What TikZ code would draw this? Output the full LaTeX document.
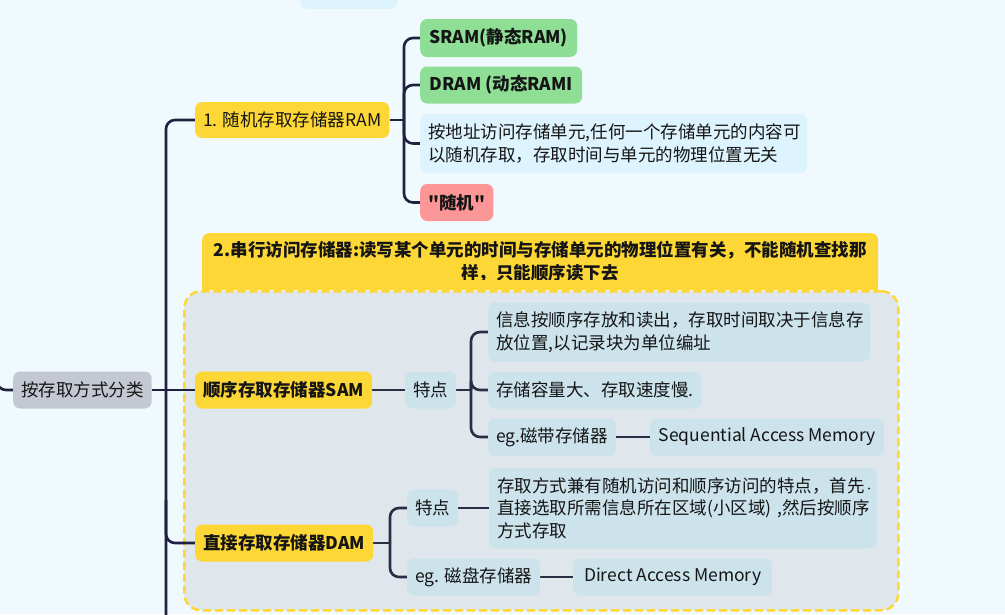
\documentclass[tikz,border=0pt]{standalone}
\usepackage{fontspec}
\setmainfont{Noto Sans CJK SC}
\newfontfamily\cjkplain{Noto Sans CJK SC}
\definecolor{bgc}{HTML}{F0F9FE}
\definecolor{ylw}{HTML}{FDD735}
\definecolor{grn}{HTML}{8EDE96}
\definecolor{pnk}{HTML}{FD9696}
\definecolor{lbl}{HTML}{DDF3FD}
\definecolor{bndfill}{HTML}{DFE6EC}
\definecolor{inbox}{HTML}{CCE3EC}
\definecolor{rootc}{HTML}{C3C8D3}
\definecolor{linec}{HTML}{1E2140}
\definecolor{linei}{HTML}{2A2E45}
\definecolor{txt}{HTML}{151515}
\pgfdeclarelayer{bglayer}
\pgfdeclarelayer{linelayer}
\pgfsetlayers{bglayer,linelayer,main}
\newcommand{\fsz}{\cjkplain\fontsize{17.5}{22.5}\selectfont}
\tikzset{
  bx/.style={rounded corners=7pt, inner xsep=8pt, inner ysep=2pt, minimum height=37pt, anchor=west, font=\fsz, text=txt},
  mbx/.style={bx, align=left},
  conn/.style={draw=linec, line width=2.6pt, rounded corners=9pt},
  conni/.style={conn, draw=linei},
}
\begin{document}
\begin{tikzpicture}[x=1pt,y=-1pt]
\useasboundingbox (0,0) rectangle (1005,614);
\begin{pgfonlayer}{bglayer}
\fill[bgc] (0,0) rectangle (1005,614);
\node[bx, fill=lbl, minimum width=97pt, anchor=south west] (topn) at (300,9) {};
\node[bx, fill=ylw, anchor=north west, minimum width=676pt, minimum height=57pt, text width=660pt, align=center, font=\fsz\bfseries] (lab2) at (202,233)
  {2.串行访问存储器:读写某个单元的时间与存储单元的物理位置有关，不能随机查找那\\样，只能顺序读下去};
\fill[ylw] ([yshift=10pt]lab2.south west) rectangle (lab2.south east);
\node[draw=ylw, fill=bndfill, line width=2.5pt, dash pattern=on 8pt off 4pt, rounded corners=17pt, minimum width=714pt, minimum height=319pt, anchor=north west, inner sep=0pt] (bnd) at (183,290) {};
\end{pgfonlayer}

% nodes
\node[bx, fill=rootc, minimum width=137pt] (root) at (13,390) {按存取方式分类};
\node[bx, fill=ylw, minimum width=192pt, minimum height=36pt] (ram) at (195,120) {1. 随机存取存储器RAM};
\node[bx, fill=grn, minimum width=157pt, minimum height=38pt, font=\fsz\bfseries] (sram) at (420,38) {SRAM(静态RAM)};
\node[bx, fill=grn, minimum width=162pt, font=\fsz\bfseries] (dram) at (420,85) {DRAM (动态RAMI};
\node[mbx, fill=lbl, text width=371pt, minimum height=59pt] (ramtxt) at (420,143.5) {按地址访问存储单元,任何一个存储单元的内容可\\以随机存取，存取时间与单元的物理位置无关};
\node[bx, fill=pnk, minimum width=66pt, font=\fsz\bfseries] (rnd) at (420,202.5) {"随机"};

\node[bx, fill=ylw, minimum width=177pt, font=\fsz\bfseries] (sam) at (195,390) {顺序存取存储器SAM};
\node[bx, fill=inbox, minimum width=50pt] (samtd) at (405,390) {特点};
\node[mbx, fill=inbox, text width=366pt, minimum height=59pt] (sam1) at (488,332) {信息按顺序存放和读出，存取时间取决于信息存\\放位置,以记录块为单位编址};
\node[bx, fill=inbox, minimum width=212pt] (sam2) at (488,390) {存储容量大、存取速度慢.};
\node[bx, fill=inbox, minimum width=126pt] (sam3) at (488,437) {eg.磁带存储器};
\node[bx, fill=inbox, minimum width=234pt] (sam4) at (650,437) {Sequential Access Memory};

\node[bx, fill=ylw, minimum width=178pt, font=\fsz\bfseries] (dam) at (195,543) {直接存取存储器DAM};
\node[bx, fill=inbox, minimum width=49pt] (damtd) at (407,508) {特点};
\node[mbx, fill=inbox, text width=372pt, minimum height=81pt] (damdesc) at (489,508) {存取方式兼有随机访问和顺序访问的特点，首先{\fontsize{9}{9}\selectfont·}\\\mbox{直接选取所需信息所在区域(小区域) ,然后按顺序}\\方式存取};
\node[bx, fill=inbox, minimum width=133pt] (dameg) at (407,577) {eg. 磁盘存储器};
\node[bx, fill=inbox, minimum width=199pt] (damlat) at (573,577) {Direct Access Memory};

% coordinates
\coordinate (rootin) at (-3,372);
\coordinate (trunktop) at (166,200);
\coordinate (trunkbot) at (166,630);
\coordinate (trunkmid) at (166,500);
\coordinate (ramj) at (404,120);
\coordinate (samj) at (471,390);
\coordinate (damj) at (390,543);

\begin{pgfonlayer}{linelayer}
\draw[conn] (rootin) |- (root.west);
\draw[conn] (root.east) -- (sam.west);
\draw[conn] (ram.west) -| (trunkbot);
\draw[conn] (trunktop) -- (trunkbot);
\draw[conn] (trunkmid) |- (dam.west);
\draw[conn] (ram.east) -- (ramj);
\foreach \n in {sram,dram,ramtxt,rnd} \draw[conn] (ramj) |- (\n.west);
\draw[conni] (sam.east) -- (samtd.west);
\draw[conni] (samtd.east) -- (samj);
\foreach \n in {sam1,sam2,sam3} \draw[conni] (samj) |- (\n.west);
\draw[conni] (sam3.east) -- (sam4.west);
\draw[conni] (dam.east) -- (damj);
\draw[conni] (damj) |- (damtd.west);
\draw[conni] (damj) |- (dameg.west);
\draw[conni] (damtd.east) -- (damdesc.west);
\draw[conni] (dameg.east) -- (damlat.west);
\end{pgfonlayer}
\end{tikzpicture}
\end{document}
